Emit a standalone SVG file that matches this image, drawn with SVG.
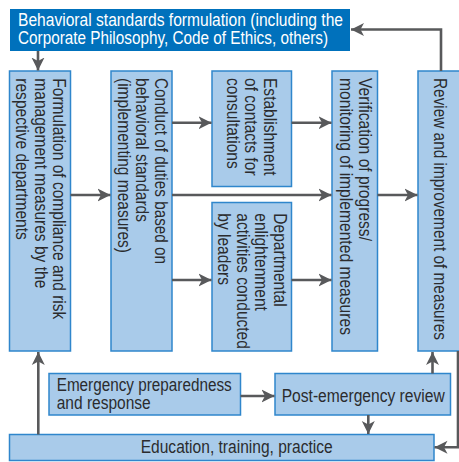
<svg xmlns="http://www.w3.org/2000/svg" width="459" height="462" viewBox="0 0 459 462">
<defs>
<style>
.box{fill:#a9cbea;stroke:#2f86cc;stroke-width:1.5}
.dark{fill:#0071bc}
text{font-family:"Liberation Sans Narrow","Liberation Sans",Arial,sans-serif;font-size:17.5px;fill:#2b2b2e}
.w{fill:#ffffff}
.c{fill:none;stroke:#58595b;stroke-width:2.6}
</style>
<marker id="ah" markerUnits="userSpaceOnUse" markerWidth="14" markerHeight="14" refX="13" refY="6.5" orient="auto" viewBox="0 0 14 13">
<path d="M0,0 L13,6.5 L0,13 L3.5,6.5 Z" fill="#58595b"/>
</marker>
</defs>
<rect width="459" height="462" fill="#ffffff"/>

<g id="top">
<rect class="dark" x="10" y="9" width="340" height="42"/>
<text class="w" x="18" y="26" textLength="325" lengthAdjust="spacingAndGlyphs">Behavioral standards formulation (including the</text>
<text class="w" x="18" y="44.3" textLength="310" lengthAdjust="spacingAndGlyphs">Corporate Philosophy, Code of Ethics, others)</text>
</g>

<g id="formulation">
<rect class="box" x="9.5" y="71" width="61" height="280"/>
<text transform="translate(53.3,78.3) rotate(90)"><tspan x="0" y="0" textLength="241" lengthAdjust="spacingAndGlyphs">Formulation of compliance and risk</tspan><tspan x="0" y="18.5" textLength="210" lengthAdjust="spacingAndGlyphs">management measures by the</tspan><tspan x="0" y="37" textLength="161.5" lengthAdjust="spacingAndGlyphs">respective departments</tspan></text>
</g>

<g id="conduct">
<rect class="box" x="111" y="71" width="61" height="280"/>
<text transform="translate(154.5,78) rotate(90)"><tspan x="0" y="0" textLength="186" lengthAdjust="spacingAndGlyphs">Conduct of duties based on</tspan><tspan x="0" y="18.5" textLength="144" lengthAdjust="spacingAndGlyphs">behavioral standards</tspan><tspan x="0" y="37" textLength="175" lengthAdjust="spacingAndGlyphs">(implementing measures)</tspan></text>
</g>

<g id="establishment">
<rect class="box" x="212" y="71" width="79.5" height="115.5"/>
<text transform="translate(263.5,78) rotate(90)"><tspan x="0" y="0" textLength="97.6" lengthAdjust="spacingAndGlyphs">Establishment</tspan><tspan x="0" y="18.5" textLength="97.6" lengthAdjust="spacingAndGlyphs">of contacts for</tspan><tspan x="0" y="37" textLength="90.7" lengthAdjust="spacingAndGlyphs">consultations</tspan></text>
</g>

<g id="departmental">
<rect class="box" x="212" y="202.5" width="79.5" height="148.5"/>
<text transform="translate(273.5,213.3) rotate(90)"><tspan x="0" y="0" textLength="93.3" lengthAdjust="spacingAndGlyphs">Departmental</tspan><tspan x="0" y="18.5" textLength="97.6" lengthAdjust="spacingAndGlyphs">enlightenment</tspan><tspan x="0" y="37" textLength="135.6" lengthAdjust="spacingAndGlyphs">activities conducted</tspan><tspan x="0" y="55.5" textLength="71.7" lengthAdjust="spacingAndGlyphs">by leaders</tspan></text>
</g>

<g id="verification">
<rect class="box" x="332" y="71" width="45.5" height="280"/>
<text transform="translate(358.5,78) rotate(90)"><tspan x="0" y="0" textLength="163" lengthAdjust="spacingAndGlyphs">Verification of progress/</tspan><tspan x="0" y="18.5" textLength="257" lengthAdjust="spacingAndGlyphs">monitoring of implemented measures</tspan></text>
</g>

<g id="review">
<rect class="box" x="418" y="71" width="46" height="280"/>
<text transform="translate(433.5,78) rotate(90)" textLength="262" lengthAdjust="spacingAndGlyphs">Review and improvement of measures</text>
</g>

<g id="emergency">
<rect class="box" x="49" y="373.5" width="191.5" height="41.5"/>
<text x="56.7" y="390.7" textLength="175" lengthAdjust="spacingAndGlyphs">Emergency preparedness</text>
<text x="56.7" y="408.5" textLength="94" lengthAdjust="spacingAndGlyphs">and response</text>
</g>

<g id="postemergency">
<rect class="box" x="275" y="373.5" width="175.5" height="41.5"/>
<text x="281.7" y="401.7" textLength="163" lengthAdjust="spacingAndGlyphs">Post-emergency review</text>
</g>

<g id="education">
<rect class="box" x="9.5" y="434.5" width="424.5" height="26"/>
<text x="140.7" y="453.3" textLength="192" lengthAdjust="spacingAndGlyphs">Education, training, practice</text>
</g>

<g id="connectors">
<line class="c" x1="38" y1="51" x2="38" y2="70.5" marker-end="url(#ah)"/>
<line class="c" x1="70.5" y1="195" x2="110.5" y2="195" marker-end="url(#ah)"/>
<line class="c" x1="172" y1="122.7" x2="211.5" y2="122.7" marker-end="url(#ah)"/>
<line class="c" x1="172" y1="195" x2="331.5" y2="195" marker-end="url(#ah)"/>
<line class="c" x1="172" y1="280" x2="211.5" y2="280" marker-end="url(#ah)"/>
<line class="c" x1="291.5" y1="122.7" x2="331.5" y2="122.7" marker-end="url(#ah)"/>
<line class="c" x1="291.5" y1="280" x2="331.5" y2="280" marker-end="url(#ah)"/>
<line class="c" x1="377.5" y1="195" x2="417.5" y2="195" marker-end="url(#ah)"/>
<polyline class="c" points="441,71 441,29.5 351,29.5" marker-end="url(#ah)"/>
<line class="c" x1="240.5" y1="396" x2="274.5" y2="396" marker-end="url(#ah)"/>
<line class="c" x1="432.5" y1="373.5" x2="432.5" y2="352" marker-end="url(#ah)"/>
<line class="c" x1="368.3" y1="415" x2="368.3" y2="434" marker-end="url(#ah)"/>
<line class="c" x1="38.3" y1="434.5" x2="38.3" y2="352" marker-end="url(#ah)"/>
<polyline class="c" points="458,351 458,447.3 434.5,447.3" marker-end="url(#ah)"/>
</g>
</svg>
